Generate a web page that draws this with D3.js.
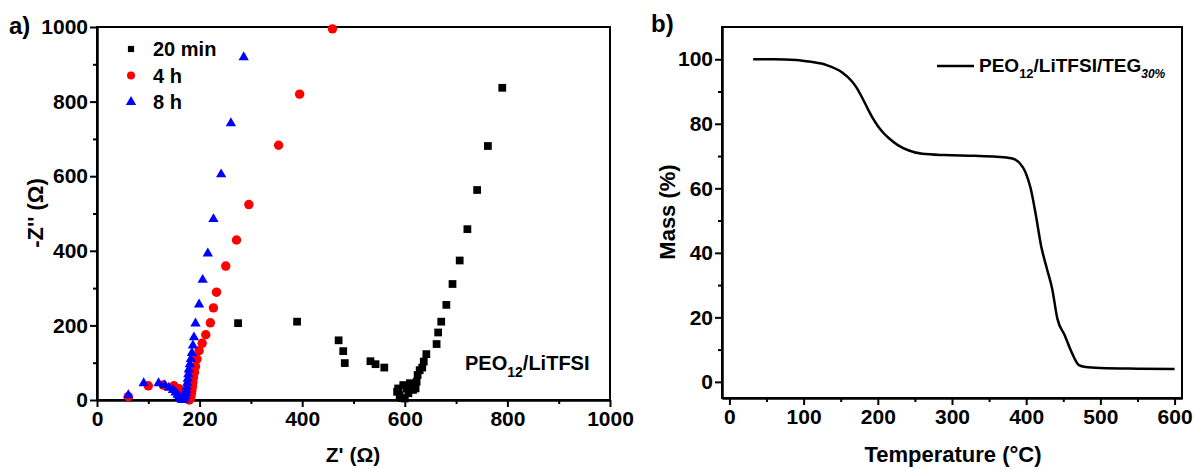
<!DOCTYPE html>
<html><head><meta charset="utf-8">
<script src="https://cdn.jsdelivr.net/npm/d3@7"></script>
<style>body{margin:0;background:#fff}text{font-family:"Liberation Sans",Arial,sans-serif;font-weight:bold;fill:#000}</style>
</head><body><svg id="c" width="1194" height="470"></svg>
<script>
// ---- Panel a: impedance (Nyquist) data ----
const min20Re = [275,390,471,480,483,533,543,560,587,585,590,594,600,597,607,603,610,616,621,623,625,629,634,637,642,662,665,671,681,693,707,722,741,762,790];
const min20Im = [206,210,160,131,99,104,96,87,31,22,13,5,4,40,18,31,45,27,31,49,67,80,87,103,123,150,181,210,255,311,374,458,563,681,837];
const h4Re = [61,100,129,150,160,166,170,174,177,180,182,183,184,185,186,187,188,190,192,195,199,205,212,221,227,233,251,272,296,354,395,459];
const h4Im = [9,38,40,38,30,22,15,8,3,0,4,10,18,27,37,48,60,74,90,110,132,152,175,207,247,289,359,429,524,683,820,995];
const h8Re = [61,91,120,132,140,148,153,157,160,163,165,167,169,171,172,173,174,175,176,177,178,179,181,183,185,187,189,192,199,206,216,227,242,261,286];
const h8Im = [13,45,45,40,33,27,20,14,9,4,1,0,2,6,12,19,27,36,46,57,69,82,96,110,126,146,168,205,256,322,393,485,605,742,919];
const seriesA = ["20 min","4 h","8 h"];
const aTicksX = [0,200,400,600,800,1000];
const aTicksY = [0,200,400,600,800,1000];
// ---- Panel b: TGA data ----
const tgaT = [32,60,90,110,131,152,165,172,180,187,193,200,207,215,227,241,260,290,330,360,380,392,399,406,413,420,428,435,442,452,461,471,480,500,550,600];
const tgaM = [100,100,99.8,99.2,98.2,95.9,93.2,91,87.6,84.4,81.8,79.3,77.3,75.5,73.4,71.8,70.7,70.3,70.1,69.8,69.3,67.6,65,60,51.7,42.3,35,28.9,19.6,14.4,9.3,5.2,4.6,4.3,4.1,4.0];
const bTicksX = [0,100,200,300,400,500,600];
const bTicksY = [0,20,40,60,80,100];

const svg = d3.select("#c");
const FS = 21;

function frame(g, x, y, minorX, minorY, ticksX, ticksY) {
  const [x0,x1] = x.range(), [y0,y1] = y.range();
  g.append("rect").attr("x",x0).attr("y",y1).attr("width",x1-x0).attr("height",y0-y1)
    .attr("fill","none").attr("stroke","#000").attr("stroke-width",2);
  const ax = g.append("g").attr("transform",`translate(0,${y0})`)
    .call(d3.axisBottom(x).tickValues(ticksX).tickFormat(d3.format("d")).tickSize(7).tickPadding(4).tickSizeOuter(0));
  const axm = g.append("g").attr("transform",`translate(0,${y0})`)
    .call(d3.axisBottom(x).tickValues(minorX).tickSize(4).tickFormat("").tickSizeOuter(0));
  const ay = g.append("g").attr("transform",`translate(${x0},0)`)
    .call(d3.axisLeft(y).tickValues(ticksY).tickFormat(d3.format("d")).tickSize(7).tickPadding(2).tickSizeOuter(0));
  const aym = g.append("g").attr("transform",`translate(${x0},0)`)
    .call(d3.axisLeft(y).tickValues(minorY).tickSize(4).tickFormat("").tickSizeOuter(0));
  [ax,axm,ay,aym].forEach(a=>{
    a.select(".domain").attr("stroke-width",2);
    a.selectAll("line").attr("stroke-width",2);
    a.selectAll("text").attr("font-size",FS).attr("font-family","Liberation Sans, Arial").attr("font-weight","bold");
  });
}

// ---------- Panel a ----------
const xa = d3.scaleLinear().domain([0,1000]).range([97,610]);
const ya = d3.scaleLinear().domain([0,1000]).range([400,27]);
const ga = svg.append("g");
frame(ga, xa, ya, [100,300,500,700,900], [100,300,500,700,900], aTicksX, aTicksY);

const sqr = d3.symbol().type(d3.symbolSquare).size(60);
const cir = d3.symbol().type(d3.symbolCircle).size(70);
const tri = d3.symbol().type(d3.symbolTriangle).size(46);
const marks = ga.append("g");
marks.selectAll(".s").data(d3.range(min20Re.length)).join("path")
  .attr("d",sqr).attr("fill","#000")
  .attr("transform",i=>`translate(${xa(min20Re[i])},${ya(min20Im[i])})`);
marks.selectAll(".c").data(d3.range(h4Re.length)).join("path")
  .attr("d",cir).attr("fill","#ff0000")
  .attr("transform",i=>`translate(${xa(h4Re[i])},${ya(h4Im[i])})`);
marks.selectAll(".t").data(d3.range(h8Re.length)).join("path")
  .attr("d",tri).attr("fill","#0000ff")
  .attr("transform",i=>`translate(${xa(h8Re[i])},${ya(h8Im[i])})`);

// legend a
const legSyms = [[sqr,"#000",0.8],[cir,"#ff0000",0.85],[tri,"#0000ff",1]];
seriesA.forEach((s,i)=>{
  const yy = 49 + i*26.5;
  ga.append("path").attr("d",legSyms[i][0]).attr("fill",legSyms[i][1])
    .attr("transform",`translate(131,${yy}) scale(${legSyms[i][2]})`);
  ga.append("text").attr("x",153).attr("y",yy+7).attr("font-size",20).text(s);
});
// annotation
const ann = ga.append("text").attr("x",465).attr("y",370).attr("font-size",20);
ann.append("tspan").text("PEO");
ann.append("tspan").attr("font-size",14).attr("dy",7).text("12");
ann.append("tspan").attr("dy",-7).text("/LiTFSI");

ga.append("text").attr("x",9).attr("y",34).attr("font-size",24).text("a)");
ga.append("text").attr("transform","translate(43,213) rotate(-90)").attr("text-anchor","middle")
  .attr("font-size",22).text("-Z'' (Ω)");
ga.append("text").attr("x",353).attr("y",462).attr("text-anchor","middle").attr("font-size",21).text("Z' (Ω)");

// ---------- Panel b ----------
const xb = d3.scaleLinear().domain([-10,610]).range([722,1182]);
const yb = d3.scaleLinear().domain([-5,110]).range([398,27]);
const gb = svg.append("g");
frame(gb, xb, yb, [50,150,250,350,450,550], [10,30,50,70,90], bTicksX, bTicksY);
const line = d3.line().x((d,i)=>xb(tgaT[i])).y((d,i)=>yb(tgaM[i])).curve(d3.curveMonotoneX);
gb.append("path").datum(tgaT).attr("d",line).attr("fill","none").attr("stroke","#000").attr("stroke-width",2.5);

gb.append("line").attr("x1",937).attr("x2",974).attr("y1",66).attr("y2",66).attr("stroke","#000").attr("stroke-width",2.5);
const lb = gb.append("text").attr("x",979).attr("y",72).attr("font-size",19);
lb.append("tspan").text("PEO");
lb.append("tspan").attr("font-size",13).attr("dy",6).text("12");
lb.append("tspan").attr("dy",-6).text("/LiTFSI/TEG");
lb.append("tspan").attr("font-size",12).attr("dy",6).attr("font-style","italic").text("30%");

gb.append("text").attr("x",651).attr("y",32).attr("font-size",24).text("b)");
gb.append("text").attr("transform","translate(675,212) rotate(-90)").attr("text-anchor","middle")
  .attr("font-size",22).text("Mass (%)");
gb.append("text").attr("x",953).attr("y",462).attr("text-anchor","middle").attr("font-size",22).text("Temperature (°C)");
</script></body></html>
